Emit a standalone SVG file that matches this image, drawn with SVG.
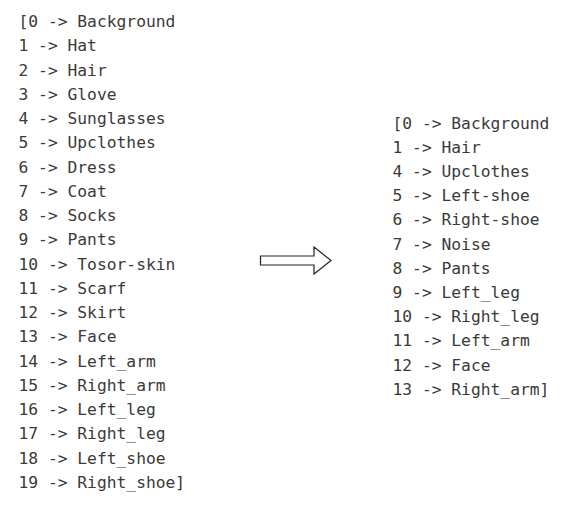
<svg xmlns="http://www.w3.org/2000/svg" width="577" height="524" viewBox="0 0 577 524">
<style>
text{font-family:"DejaVu Sans Mono","Liberation Mono",monospace;font-size:16.3px;fill:#3a3a3a;white-space:pre}
.arrow{fill:#fff;stroke:#222;stroke-width:1.2}
</style>
<rect width="577" height="524" fill="#fff"/>
<g id="left-list">
<text x="18.5" y="27">[0 -&gt; Background</text>
<text x="18.5" y="51.3">1 -&gt; Hat</text>
<text x="18.5" y="75.5">2 -&gt; Hair</text>
<text x="18.5" y="99.8">3 -&gt; Glove</text>
<text x="18.5" y="124">4 -&gt; Sunglasses</text>
<text x="18.5" y="148.3">5 -&gt; Upclothes</text>
<text x="18.5" y="172.5">6 -&gt; Dress</text>
<text x="18.5" y="196.8">7 -&gt; Coat</text>
<text x="18.5" y="221">8 -&gt; Socks</text>
<text x="18.5" y="245.3">9 -&gt; Pants</text>
<text x="18.5" y="269.6">10 -&gt; Tosor-skin</text>
<text x="18.5" y="293.8">11 -&gt; Scarf</text>
<text x="18.5" y="318.1">12 -&gt; Skirt</text>
<text x="18.5" y="342.3">13 -&gt; Face</text>
<text x="18.5" y="366.6">14 -&gt; Left_arm</text>
<text x="18.5" y="390.8">15 -&gt; Right_arm</text>
<text x="18.5" y="415.1">16 -&gt; Left_leg</text>
<text x="18.5" y="439.4">17 -&gt; Right_leg</text>
<text x="18.5" y="463.6">18 -&gt; Left_shoe</text>
<text x="18.5" y="487.9">19 -&gt; Right_shoe]</text>
</g>
<g id="connectors">
<polygon class="arrow" points="260.5,256 314,256 314,247 331,260.5 314,274 314,265 260.5,265"/>
</g>
<g id="right-list">
<text x="392.5" y="128.5">[0 -&gt; Background</text>
<text x="392.5" y="152.7">1 -&gt; Hair</text>
<text x="392.5" y="176.9">4 -&gt; Upclothes</text>
<text x="392.5" y="201.1">5 -&gt; Left-shoe</text>
<text x="392.5" y="225.3">6 -&gt; Right-shoe</text>
<text x="392.5" y="249.5">7 -&gt; Noise</text>
<text x="392.5" y="273.7">8 -&gt; Pants</text>
<text x="392.5" y="297.9">9 -&gt; Left_leg</text>
<text x="392.5" y="322.1">10 -&gt; Right_leg</text>
<text x="392.5" y="346.3">11 -&gt; Left_arm</text>
<text x="392.5" y="370.5">12 -&gt; Face</text>
<text x="392.5" y="394.7">13 -&gt; Right_arm]</text>
</g>
</svg>
